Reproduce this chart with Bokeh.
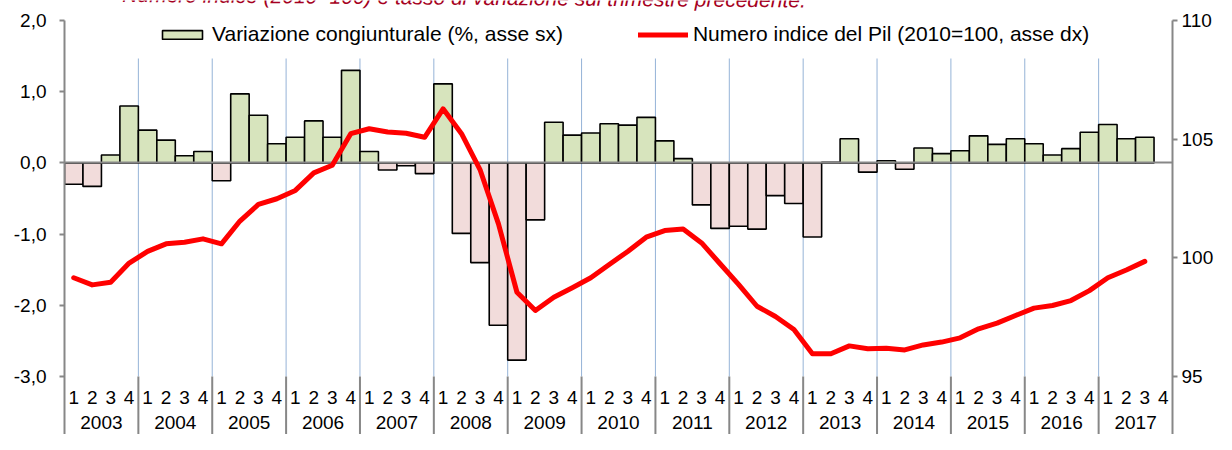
from bokeh.plotting import figure
from bokeh.models import (Range1d, LinearAxis, FixedTicker, Legend, LegendItem,
                          ColumnDataSource)
from bokeh.embed import file_html
from bokeh.resources import INLINE
from bokeh.core.properties import value

# ---------------- data ----------------
years = ["2003", "2004", "2005", "2006", "2007", "2008", "2009", "2010",
         "2011", "2012", "2013", "2014", "2015", "2016", "2017"]
quarters = ["1", "2", "3", "4"]

# quarterly change of GDP (%, left axis), 2003Q1 .. 2017Q3
var_cong = [
    -0.30, -0.33, 0.11, 0.80,    # 2003
    0.46, 0.32, 0.10, 0.16,      # 2004
    -0.25, 0.97, 0.67, 0.27,     # 2005
    0.36, 0.59, 0.36, 1.30,      # 2006
    0.16, -0.10, -0.04, -0.15,   # 2007
    1.11, -0.99, -1.40, -2.28,   # 2008
    -2.77, -0.80, 0.57, 0.39,    # 2009
    0.42, 0.55, 0.53, 0.64,      # 2010
    0.31, 0.06, -0.59, -0.92,    # 2011
    -0.89, -0.93, -0.46, -0.57,  # 2012
    -1.04, 0.01, 0.34, -0.13,    # 2013
    0.03, -0.09, 0.21, 0.13,     # 2014
    0.17, 0.38, 0.26, 0.34,      # 2015
    0.27, 0.11, 0.20, 0.43,      # 2016
    0.54, 0.34, 0.36,            # 2017
]

# GDP index (2010=100, right axis), 2003Q1 .. 2017Q3
pil_index = [
    99.16, 98.86, 98.97, 99.78,
    100.27, 100.59, 100.66, 100.80,
    100.59, 101.55, 102.25, 102.49,
    102.84, 103.58, 103.90, 105.23,
    105.44, 105.30, 105.25, 105.08,
    106.28, 105.23, 103.72, 101.43,
    98.55, 97.78, 98.34, 98.74,
    99.16, 99.72, 100.27, 100.87,
    101.15, 101.21, 100.63, 99.75,
    98.88, 97.96, 97.53, 96.98,
    95.96, 95.96, 96.29, 96.17,
    96.19, 96.12, 96.33, 96.45,
    96.63, 97.01, 97.25, 97.57,
    97.88, 97.99, 98.20, 98.62,
    99.16, 99.49, 99.85,
]

left_ticks = [-3, -2, -1, 0, 1, 2]
left_labels = ["-3,0", "-2,0", "-1,0", "0,0", "1,0", "2,0"]
right_ticks = [95, 100, 105, 110]

title_text = "Numero indice (2010=100) e tasso di variazione sul trimestre precedente."
bar_label = "Variazione congiunturale (%, asse sx)"
line_label = "Numero indice del Pil (2010=100, asse dx)"

# ---------------- styling ----------------
FONT = "Liberation Sans"
GRAY = "#878787"
BLUE = "#95B3D7"
POS = "#D7E4BD"
NEG = "#F2DCDB"
RED = "#FF0000"
TITLE_RED = "#A50021"

W, H = 1216, 434
BORDER_L, BORDER_R = 64, 42
TOP_PAD = 20                              # pixels above the 2,0 / 110 tick
FRAME_H_AXIS = 356                        # pixels for the -3..2 part
EXTRA_BOTTOM = H - TOP_PAD - FRAME_H_AXIS # category label band below -3
L_MIN, L_MAX = left_ticks[0], left_ticks[-1]
R_MIN, R_MAX = right_ticks[0], right_ticks[-1]
l_ppu = FRAME_H_AXIS / (L_MAX - L_MIN)
r_ppu = FRAME_H_AXIS / (R_MAX - R_MIN)
left_bottom = L_MIN - EXTRA_BOTTOM / l_ppu
right_bottom = R_MIN - EXTRA_BOTTOM / r_ppu
left_top = L_MAX + TOP_PAD / l_ppu
right_top = R_MAX + TOP_PAD / r_ppu
GRID_TOP = L_MAX - 38 / l_ppu

n_q = len(years) * len(quarters)
x_all = list(range(n_q))
x_bar = x_all[:len(var_cong)]
x_line = x_all[:len(pil_index)]
q_ppu = (W - BORDER_L - BORDER_R) / n_q

p = figure(width=W, height=H, output_backend="svg", toolbar_location=None,
           x_range=Range1d(-0.5, n_q - 0.5), y_range=Range1d(left_bottom, left_top),
           x_axis_type=None, min_border_left=BORDER_L, min_border_right=BORDER_R,
           min_border_top=0, min_border_bottom=0)
p.extra_y_ranges = {"right": Range1d(right_bottom, right_top)}
p.grid.visible = False
p.outline_line_color = None
p.background_fill_color = "white"
p.border_fill_color = "white"

def style_axis(ax, standoff):
    ax.axis_line_color = GRAY
    ax.axis_line_width = 2
    ax.major_tick_line_color = GRAY
    ax.major_tick_line_width = 2
    ax.major_tick_out = 5
    ax.major_tick_in = 0
    ax.minor_tick_line_color = None
    ax.major_label_text_font = FONT
    ax.major_label_text_font_size = "19px"
    ax.major_label_text_color = "black"
    ax.major_label_standoff = standoff

yl = p.yaxis[0]
yl.ticker = FixedTicker(ticks=left_ticks)
yl.major_label_overrides = {t: s for t, s in zip(left_ticks, left_labels)}
yl.bounds = (left_bottom, L_MAX)
style_axis(yl, 13)

yr = LinearAxis(y_range_name="right", ticker=FixedTicker(ticks=right_ticks),
                bounds=(right_bottom, R_MAX))
style_axis(yr, 4)
p.add_layout(yr, "right")

# year boundaries
nq = len(quarters)
bounds = [nq * k - 0.5 for k in range(1, len(years))]
p.segment(x0=bounds, y0=[L_MIN] * len(bounds), x1=bounds, y1=[GRID_TOP] * len(bounds),
          line_color=BLUE, line_width=1)
p.segment(x0=bounds, y0=[L_MIN] * len(bounds), x1=bounds, y1=[left_bottom] * len(bounds),
          line_color=GRAY, line_width=2)

# bars
src = ColumnDataSource(dict(x=x_bar, top=var_cong,
                            color=[POS if v >= 0 else NEG for v in var_cong]))
bars = p.vbar(x="x", top="top", bottom=0, width=1.0, source=src,
              fill_color="color", line_color="black", line_width=1.6)

# zero line
p.hspan(y=[0], line_color=GRAY, line_width=2)

# GDP index line
line = p.line(x_line, pil_index, y_range_name="right", line_color=RED, line_width=5,
              line_join="round", line_cap="round")

# category labels
p.text(x=x_all, y=[L_MIN] * n_q, text=quarters * len(years), y_offset=21,
       text_align="center", text_baseline="middle", text_font=value(FONT),
       text_font_size="19px", text_color="black")
p.text(x=[nq * k + (nq - 1) / 2 for k in range(len(years))], y=[L_MIN] * len(years),
       text=years, y_offset=46, text_align="center", text_baseline="middle",
       text_font=value(FONT), text_font_size="19px", text_color="black")

# chart title, mostly above the top edge as in the original picture
p.text(x=[-0.5 + (122 - BORDER_L) / q_ppu], y=[L_MAX + 26 / l_ppu], text=[title_text],
       angle=-0.008, text_align="left", text_baseline="alphabetic",
       text_font=value(FONT), text_font_size="21px", text_font_style="italic",
       text_color=TITLE_RED)

# legend
pos_index = next(i for i, v in enumerate(var_cong) if v > 0)
legend = Legend(items=[LegendItem(label=bar_label, renderers=[bars], index=pos_index),
                       LegendItem(label=line_label, renderers=[line])],
                orientation="horizontal", location=(93, 388),
                glyph_width=50, glyph_height=11, label_standoff=5, spacing=75,
                padding=0, margin=0, border_line_color=None,
                background_fill_alpha=0, label_text_font=FONT,
                label_text_font_size="21px", label_text_color="black")
p.add_layout(legend)

open("out.html", "w").write(file_html(p, INLINE))
